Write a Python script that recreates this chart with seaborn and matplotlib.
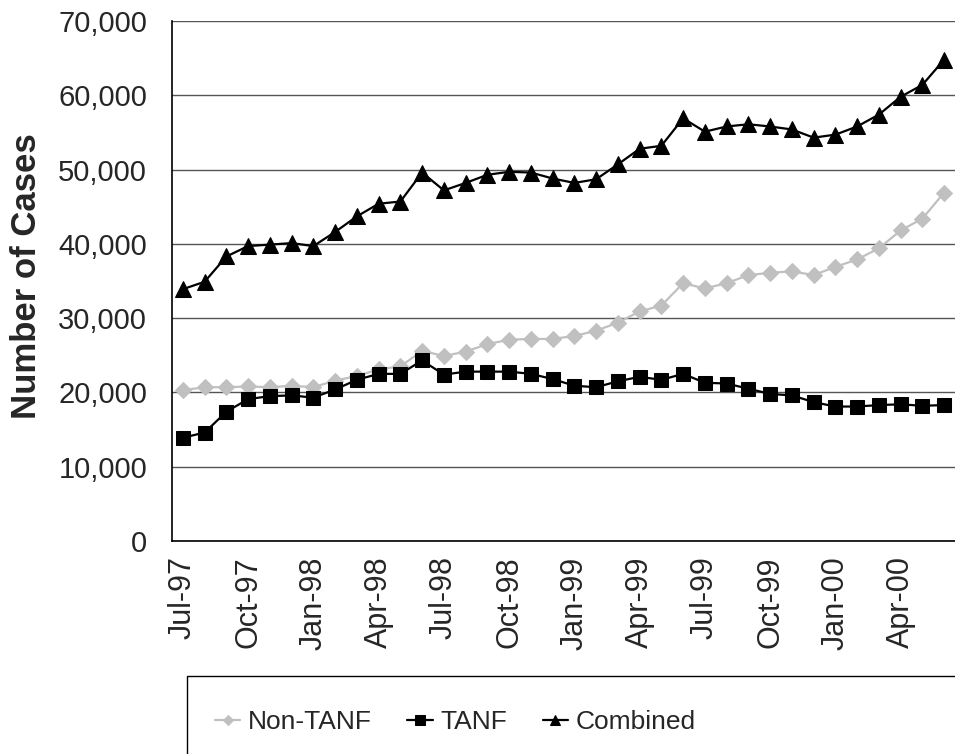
import numpy as np
import pandas as pd
import matplotlib
matplotlib.use('Agg')
import matplotlib.pyplot as plt
import matplotlib.ticker as ticker
from matplotlib.patches import Rectangle
import seaborn as sns

sns.set_style("white")
plt.rcParams['font.family'] = ['Liberation Sans', 'DejaVu Sans']

# Monthly caseload, Jul-97 .. Jun-00
months = pd.date_range('1997-07-01', periods=36, freq='MS').strftime('%b-%y').tolist()
non_tanf = [20300, 20700, 20700, 20800, 20700, 20900, 20700, 21600, 22200, 23100, 23500, 25600,
            24900, 25500, 26500, 27100, 27200, 27200, 27600, 28300, 29400, 30900, 31700, 34700,
            34000, 34700, 35800, 36100, 36300, 35800, 36900, 37900, 39400, 41800, 43400, 46900]
tanf = [13900, 14600, 17400, 19100, 19500, 19600, 19300, 20400, 21700, 22500, 22500, 24300,
        22400, 22800, 22800, 22800, 22500, 21800, 20900, 20700, 21500, 22100, 21700, 22500,
        21300, 21200, 20500, 19800, 19600, 18700, 18100, 18100, 18300, 18400, 18200, 18300]
combined = [33900, 34900, 38300, 39700, 39900, 40100, 39700, 41600, 43700, 45400, 45700, 49600,
            47200, 48200, 49300, 49700, 49600, 48800, 48200, 48700, 50700, 52800, 53200, 56900,
            55100, 55800, 56100, 55800, 55400, 54300, 54700, 55800, 57400, 59800, 61400, 64800]
tick_labels = ['Jul-97', 'Oct-97', 'Jan-98', 'Apr-98', 'Jul-98', 'Oct-98',
               'Jan-99', 'Apr-99', 'Jul-99', 'Oct-99', 'Jan-00', 'Apr-00']

df = pd.DataFrame({'pos': np.arange(len(months)), 'month': months,
                   'Non-TANF': non_tanf, 'TANF': tanf, 'Combined': combined})

W, H = 955, 754
fig = plt.figure(figsize=(W / 100, H / 100), dpi=100)
# the original chart is cropped on the right, so the axes run past the figure edge
ax = fig.add_axes([172 / W, (H - 541) / H, 1 - 172 / W, 520 / H])

styles = {
    'Non-TANF': dict(color='#C0C0C0', marker='D', markersize=8),
    'TANF': dict(color='black', marker='s', markersize=10.5),
    'Combined': dict(color='black', marker='^', markersize=11),
}
for name, st in styles.items():
    sns.lineplot(data=df, x='pos', y=name, ax=ax, label=name, color=st['color'],
                 linewidth=1.6, marker=st['marker'], markersize=st['markersize'],
                 markeredgecolor=st['color'], clip_on=False, zorder=3)

ax.set_xlim(-0.5, -0.5 + (W - 172) / 22.1)
ax.set_ylim(0, 70000)

# gridlines / spines
ax.yaxis.set_major_locator(ticker.MultipleLocator(10000))
ax.yaxis.set_major_formatter(ticker.FuncFormatter(lambda v, p: f'{int(v):,}'))
ax.grid(axis='y', color='#555555', linewidth=1.0)
ax.set_axisbelow(True)
for s in ['top', 'right']:
    ax.spines[s].set_visible(False)
for s in ['left', 'bottom']:
    ax.spines[s].set_color('black')
    ax.spines[s].set_linewidth(1.2)

# category axis: ticks between months, labels every third month
label_pos = [months.index(t) for t in tick_labels]
ax.set_xticks(label_pos)
ax.set_xticklabels(tick_labels, rotation=90, fontsize=22)
ax.set_xticks(np.arange(-0.5, len(months) + 0.5, 1), minor=True)
ax.tick_params(axis='x', which='major', length=0, pad=11)
ax.tick_params(axis='x', which='minor', length=7, width=1, color='black', direction='out')
ax.tick_params(axis='y', length=7, width=1, color='black', direction='out',
               labelsize=21, pad=11)
ax.set_xlabel('')
ax.set_ylabel('Number of Cases', fontsize=25, fontweight='bold')
ax.yaxis.set_label_coords(-0.165, 0.51)

ax.get_legend().remove()
handles, labels = ax.get_legend_handles_labels()
fig.add_artist(Rectangle((187 / W, -0.1), 1, (H - 676) / H + 0.1, transform=fig.transFigure,
                         facecolor='none', edgecolor='black', linewidth=1.0, clip_on=False))
leg = fig.legend(handles, labels, loc='center left', bbox_to_anchor=(215 / W, (H - 722) / H),
                 ncol=3, frameon=False, borderpad=0, borderaxespad=0,
                 handlelength=0.95, handletextpad=0.3, columnspacing=1.35, markerscale=0.7,
                 prop={'size': 19})

fig.savefig('out.png', dpi=100)
